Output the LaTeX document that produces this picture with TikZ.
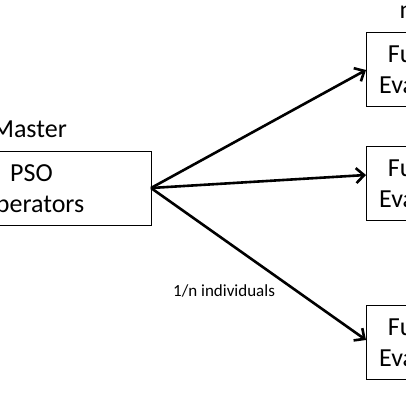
\documentclass[tikz,border=0pt]{standalone}
\usepackage{fontspec}
\setmainfont{Carlito}
\usetikzlibrary{arrows.meta}
\begin{document}
\begin{tikzpicture}[x=1pt,y=-1pt,
  box/.style={draw=black,line width=0.9pt,align=center,font=\fontsize{26}{31}\selectfont,inner sep=0pt},
  lbl/.style={font=\fontsize{26}{31}\selectfont,inner sep=0pt},
  conn/.style={line width=2.6pt,-{Straight Barb[length=8pt,width=15pt,line width=2.6pt]}}]
\useasboundingbox (0,0) rectangle (406,406);
\clip (0,0) rectangle (406,406);
\fill[white] (0,0) rectangle (406,406);
\node[box,minimum width=239pt,minimum height=74pt] (m) at (31.5,188) {\rule{0pt}{22.5pt}PSO\\Operators};
\node[lbl,anchor=base east] (ml) at (67,138) {Master};
\node[box,minimum width=136pt,minimum height=74pt] (f1) at (434,69) {Function\\Evaluation};
\node[box,minimum width=136pt,minimum height=74pt] (f2) at (434,183) {Function\\Evaluation};
\node[box,minimum width=136pt,minimum height=74pt] (f3) at (434,342) {Function\\Evaluation};
\node[lbl,anchor=base west] (nl) at (399.5,19) {n Slaves};
\node[font=\fontsize{17}{20}\selectfont,inner sep=0pt,anchor=base west] (il) at (173,296) {1/n individuals};
\coordinate (s) at (151,188);
\coordinate (e1) at (366,70);
\coordinate (e2) at (366,175);
\coordinate (e3) at (366,340);
\draw[conn] (s) -- (e1);
\draw[conn] (s) -- (e2);
\draw[conn] (s) -- (e3);
\end{tikzpicture}
\end{document}
